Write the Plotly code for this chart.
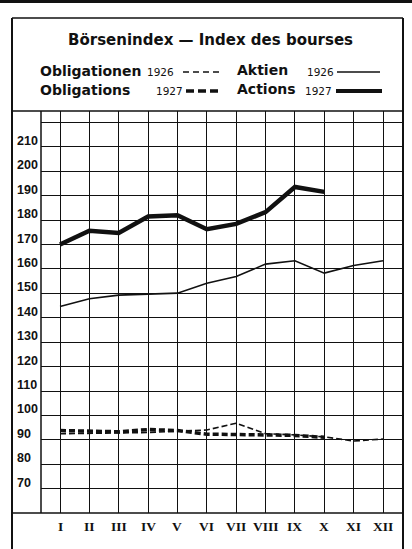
import plotly.graph_objects as go

# ---- data ----
months = list(range(1, 13))
month_labels = ["I", "II", "III", "IV", "V", "VI", "VII", "VIII", "IX", "X", "XI", "XII"]
y_ticks = [70, 80, 90, 100, 110, 120, 130, 140, 150, 160, 170, 180, 190, 200, 210]

aktien_1926 = [144.6, 147.8, 149.3, 149.8, 150.1, 154.2, 156.9, 162.0, 163.4, 158.3, 161.4, 163.4]
aktien_1927 = [170.0, 175.7, 174.8, 181.5, 182.0, 176.3, 178.5, 183.3, 193.6, 191.6]
oblig_1926 = [92.5, 92.6, 93.0, 93.0, 93.5, 94.0, 96.8, 92.5, 92.0, 91.2, 89.5, 90.3]
oblig_1927 = [93.8, 93.5, 93.3, 94.2, 93.8, 92.3, 92.3, 92.0, 91.8, 91.0]

W, H = 412, 549
L, R, T, B = 41, 10, 111, 36
PW, PH = W - L - R, H - T - B
INK = "#111111"


def px(x):
    return (x - L) / PW


def py(y):
    return (H - B - y) / PH


fig = go.Figure()
fig.add_trace(go.Scatter(x=months, y=aktien_1926, mode="lines",
                         line=dict(color=INK, width=1.6), hoverinfo="skip"))
fig.add_trace(go.Scatter(x=months[:len(aktien_1927)], y=aktien_1927, mode="lines",
                         line=dict(color=INK, width=4.5), hoverinfo="skip"))
fig.add_trace(go.Scatter(x=months, y=oblig_1926, mode="lines",
                         line=dict(color=INK, width=1.6, dash="6px,3px"), hoverinfo="skip"))
fig.add_trace(go.Scatter(x=months[:len(oblig_1927)], y=oblig_1927, mode="lines",
                         line=dict(color=INK, width=3.5, dash="6px,3px"), hoverinfo="skip"))

shapes = []
def seg(x0, y0, x1, y1, w, dash="solid"):
    shapes.append(dict(type="line", xref="paper", yref="paper",
                       x0=px(x0), y0=py(y0), x1=px(x1), y1=py(y1),
                       line=dict(color=INK, width=w, dash=dash)))

# frame
seg(0, 1.5, 412, 1.5, 3)
seg(12, 18, 403, 18, 1.5)
seg(12, 18, 12, 549, 2)
seg(403, 18, 403, 549, 2)
seg(12, 111, 403, 111, 1.5)
seg(41, 111, 41, 513, 1.5)
seg(12, 513, 403, 513, 1.5)
# legend samples
seg(183, 72, 222, 72, 1.3, "6px,4px")
seg(337, 72, 380, 72, 1.3)
seg(186, 91, 222, 91, 3.5, "8px,4px")
seg(336, 91, 382, 91, 4)

ann = []
SANS = "DejaVu Sans"
def text(x, y, s, size, anchor="left", bold=True, family=SANS):
    ann.append(dict(xref="paper", yref="paper", x=px(x), y=py(y), text=("<b>%s</b>" % s) if bold else s,
                    showarrow=False, xanchor=anchor, yanchor="middle",
                    font=dict(family=family, size=size, color=INK)))

text(210, 40, "Börsenindex — Index des bourses", 15, "center")
text(38, 71, "Obligationen", 14)
text(145, 72, "1926", 10.5, bold=False)
text(235, 70, "Aktien", 14)
text(305, 72, "1926", 10.5, bold=False)
text(38, 90, "Obligations", 14)
text(154, 91, "1927", 10.5, bold=False)
text(235, 89, "Actions", 14)
text(303, 91, "1927", 10.5, bold=False)

for v in y_ticks:
    ann.append(dict(xref="paper", yref="y", x=px(15), y=v, yshift=6, text="<b>%d</b>" % v,
                    showarrow=False, xanchor="left", yanchor="middle",
                    font=dict(family="Liberation Sans", size=12.5, color=INK)))
for m, lab in zip(months, month_labels):
    ann.append(dict(xref="x", yref="paper", x=m, y=py(526), text="<b>%s</b>" % lab,
                    showarrow=False, xanchor="center", yanchor="middle",
                    font=dict(family="Liberation Serif", size=13.5, color=INK)))

fig.update_layout(
    width=W, height=H, margin=dict(l=L, r=R, t=T, b=B),
    paper_bgcolor="white", plot_bgcolor="white", showlegend=False,
    shapes=shapes, annotations=ann,
    xaxis=dict(range=[1 - 19 / 29.36, 12 + 19 / 29.36], tickvals=months, showticklabels=False,
               showgrid=True, gridcolor=INK, gridwidth=1.3, zeroline=False, ticks="",
               fixedrange=True),
    yaxis=dict(range=[60, 224.75], tick0=60, dtick=10, showticklabels=False,
               showgrid=True, gridcolor=INK, gridwidth=1.3, zeroline=False, ticks="",
               fixedrange=True),
)

fig.write_html("out.html", config={"displayModeBar": False},
               post_script="document.body.style.margin='0px';")
